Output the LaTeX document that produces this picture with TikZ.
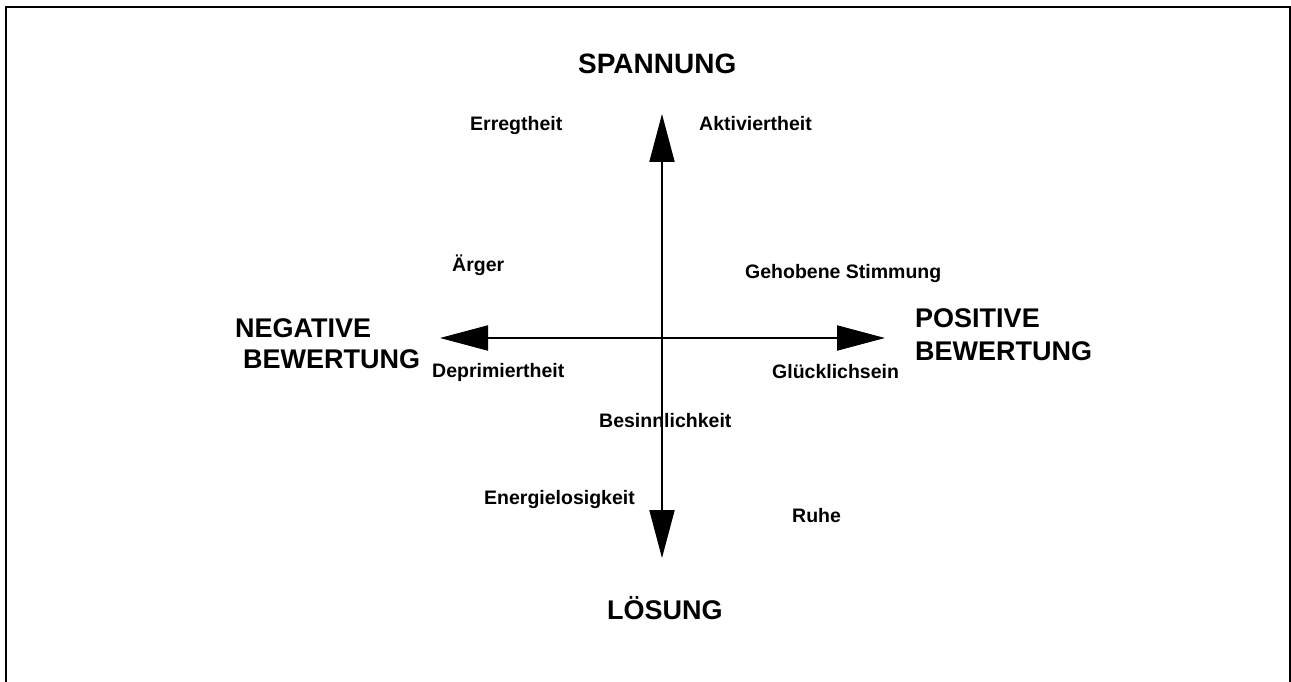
\documentclass[tikz,border=0pt]{standalone}
\usepackage{fontspec}
\setmainfont{Liberation Sans}
\usetikzlibrary{arrows.meta}

\tikzset{
  gross/.style={font=\fontsize{27}{31}\selectfont\bfseries, inner sep=0pt, anchor=base west},
  klein/.style={font=\fontsize{19.5}{23}\selectfont\bfseries, inner sep=0pt, anchor=base west},
  spitze/.tip={Triangle[length=48pt,width=25pt]},
  achse/.style={line width=2pt, spitze-spitze},
}

\begin{document}
\begin{tikzpicture}[x=1pt, y=-1pt]

\useasboundingbox (0,0) rectangle (1291,682);

% Rahmen
\draw[line width=2pt] (6,682) -- (6,7) -- (1290,7) -- (1290,682);

% Achsen
\coordinate (oben) at (662,114);
\coordinate (unten) at (662,558);
\coordinate (links) at (440,338);
\coordinate (rechts) at (885,338);
\draw[achse] (unten) -- (oben);
\draw[achse] (links) -- (rechts);

% Pole
\node[gross, font=\fontsize{28}{32}\selectfont\bfseries] (spannung) at (578,74) {SPANNUNG};
\node[gross] (loesung) at (607,619) {LÖSUNG};
\node[gross] (negativ) at (235,337) {NEGATIVE};
\node[gross] (negbew) at (243,368) {BEWERTUNG};
\node[gross] (positiv) at (915,327) {POSITIVE};
\node[gross] (posbew) at (915,360) {BEWERTUNG};

% Zustaende
\node[klein] (erregt) at (470,131) {Erregtheit};
\node[klein] (aktiv) at (699,131) {Aktiviertheit};
\node[klein] (aerger) at (452,271) {Ärger};
\node[klein] (gehoben) at (745,278) {Gehobene Stimmung};
\node[klein] (deprim) at (432,377) {Deprimiertheit};
\node[klein] (gluecklich) at (772,378) {Glücklichsein};
\node[klein] (besinn) at (599,427) {Besinnlichkeit};
\node[klein] (energie) at (484,504) {Energielosigkeit};
\node[klein] (ruhe) at (792,522) {Ruhe};

\end{tikzpicture}
\end{document}
